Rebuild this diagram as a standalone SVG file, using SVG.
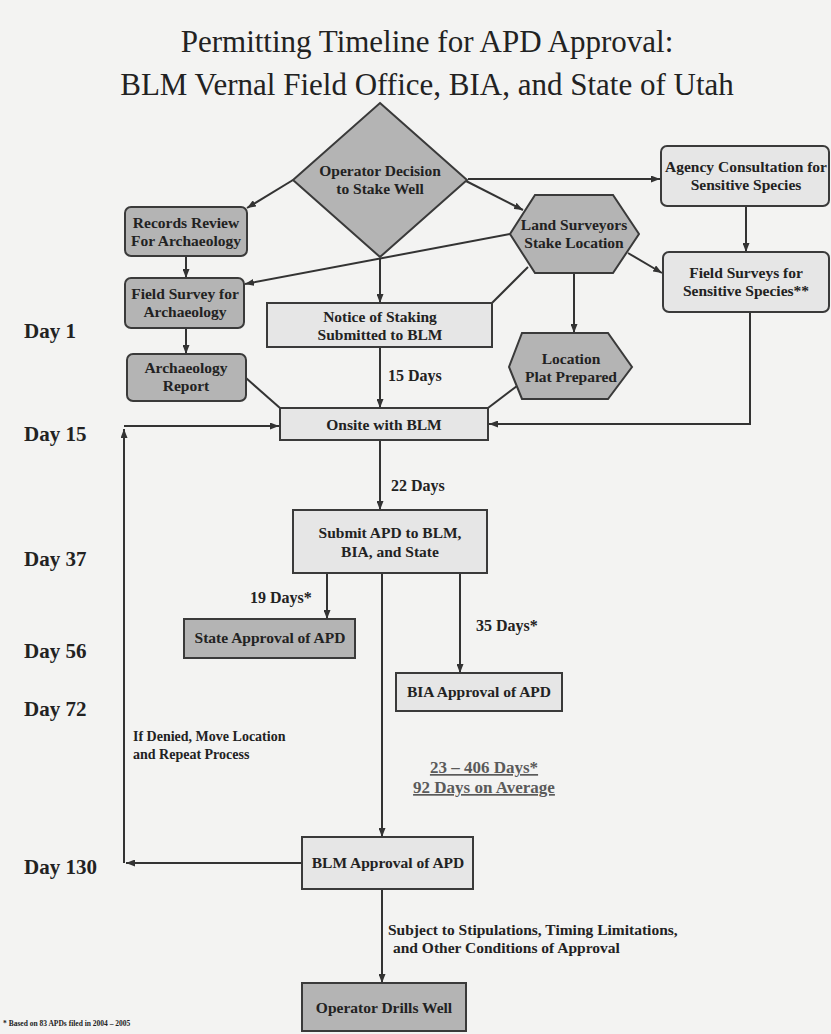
<svg xmlns="http://www.w3.org/2000/svg" width="831" height="1034" viewBox="0 0 831 1034">
<style>
.bg{fill:#f3f3f2}
.t{font-family:"Liberation Serif","Times New Roman",serif;fill:#222}
.title{font-size:31px;text-anchor:middle}
.n{font-size:15.5px;font-weight:bold;text-anchor:middle}
.lb{font-size:16px;font-weight:bold}
.day{font-size:21px;font-weight:bold}
.dk{fill:#b4b4b4;stroke:#3a3a3a;stroke-width:2}
.lt{fill:#e6e6e6;stroke:#3a3a3a;stroke-width:2}
.c{fill:none;stroke:#333;stroke-width:2}
.u{font-size:17px;font-weight:bold;fill:#5a5a5a;text-decoration:underline;text-anchor:middle}
</style>
<defs>
<marker id="a" viewBox="0 0 9 7" refX="9" refY="3.5" markerWidth="9" markerHeight="7" markerUnits="userSpaceOnUse" orient="auto"><path d="M0,0 L9,3.5 L0,7 z" fill="#333"/></marker>
</defs>
<rect class="bg" x="0" y="0" width="831" height="1034"/>
<g id="title">
<text class="t title" x="427" y="52">Permitting Timeline for APD Approval:</text>
<text class="t title" x="427" y="95">BLM Vernal Field Office, BIA, and State of Utah</text>
</g>
<g id="days">
<text class="t day" x="24" y="338">Day 1</text>
<text class="t day" x="24" y="441">Day 15</text>
<text class="t day" x="24" y="566">Day 37</text>
<text class="t day" x="24" y="658">Day 56</text>
<text class="t day" x="24" y="716">Day 72</text>
<text class="t day" x="24" y="874">Day 130</text>
</g>
<g id="connectors">
<path class="c" d="M293,180 L247,208" marker-end="url(#a)"/>
<path class="c" d="M468,179 L660,179" marker-end="url(#a)"/>
<path class="c" d="M466,181 L523,210" marker-end="url(#a)"/>
<path class="c" d="M380,258 L380,303" marker-end="url(#a)"/>
<path class="c" d="M510,234 L245,284" marker-end="url(#a)"/>
<path class="c" d="M528,267 L492,303"/>
<path class="c" d="M574,273 L574,333" marker-end="url(#a)"/>
<path class="c" d="M628,253 L662,273" marker-end="url(#a)"/>
<path class="c" d="M746,206 L746,252" marker-end="url(#a)"/>
<path class="c" d="M750,312 L750,424 L489,424" marker-end="url(#a)"/>
<path class="c" d="M517,386 L488,408"/>
<path class="c" d="M246,378 L280,408"/>
<path class="c" d="M186,256 L186,278" marker-end="url(#a)"/>
<path class="c" d="M186,328 L186,354" marker-end="url(#a)"/>
<path class="c" d="M380,347 L380,408" marker-end="url(#a)"/>
<path class="c" d="M380,440 L380,510" marker-end="url(#a)"/>
<path class="c" d="M327,573 L327,619" marker-end="url(#a)"/>
<path class="c" d="M460,573 L460,673" marker-end="url(#a)"/>
<path class="c" d="M382,573 L382,837" marker-end="url(#a)"/>
<path class="c" d="M302,863 L126,863" marker-end="url(#a)"/>
<path class="c" d="M124,863 L124,429" marker-end="url(#a)"/>
<path class="c" d="M124,426 L279,426" marker-end="url(#a)"/>
<path class="c" d="M382,889 L382,983" marker-end="url(#a)"/>
<text class="t lb" x="388" y="381">15 Days</text>
<text class="t lb" x="391" y="491">22 Days</text>
<text class="t lb" x="250" y="603">19 Days*</text>
<text class="t lb" x="476" y="631">35 Days*</text>
<text class="t lb" x="133" y="741" style="font-size:14px">If Denied, Move Location</text>
<text class="t lb" x="133" y="759" style="font-size:14px">and Repeat Process</text>
<text class="t u" x="484" y="773">23 – 406 Days*</text>
<text class="t u" x="484" y="793">92 Days on Average</text>
<text class="t lb" x="388" y="935" style="font-size:15.5px">Subject to Stipulations, Timing Limitations,</text>
<text class="t lb" x="393" y="953" style="font-size:15.5px">and Other Conditions of Approval</text>
</g>
<g id="operator-decision">
<polygon class="dk" points="380,103 467,180 380,257 293,180"/>
<text class="t n" x="380" y="176">Operator Decision</text>
<text class="t n" x="380" y="194">to Stake Well</text>
</g>
<g id="records-review">
<rect class="dk" x="125" y="207" width="122" height="49" rx="6"/>
<text class="t n" x="186" y="228">Records Review</text>
<text class="t n" x="186" y="246">For Archaeology</text>
</g>
<g id="field-survey-arch">
<rect class="dk" x="125" y="278" width="119" height="50" rx="6"/>
<text class="t n" x="185" y="299">Field Survey for</text>
<text class="t n" x="185" y="317">Archaeology</text>
</g>
<g id="archaeology-report">
<rect class="dk" x="127" y="354" width="119" height="47" rx="6"/>
<text class="t n" x="186" y="373">Archaeology</text>
<text class="t n" x="186" y="391">Report</text>
</g>
<g id="notice-of-staking">
<rect class="lt" x="267" y="303" width="225" height="44"/>
<text class="t n" x="380" y="322">Notice of Staking</text>
<text class="t n" x="380" y="340">Submitted to BLM</text>
</g>
<g id="land-surveyors">
<polygon class="dk" points="535,195 613,195 639,234 613,273 535,273 510,234"/>
<text class="t n" x="574" y="230">Land Surveyors</text>
<text class="t n" x="574" y="248">Stake Location</text>
</g>
<g id="location-plat">
<polygon class="dk" points="522,333 608,333 632,367 608,399 522,399 509,367"/>
<text class="t n" x="571" y="364">Location</text>
<text class="t n" x="571" y="382">Plat Prepared</text>
</g>
<g id="agency-consultation">
<rect class="lt" x="661" y="146" width="168" height="60" rx="6"/>
<text class="t n" x="746" y="172">Agency Consultation for</text>
<text class="t n" x="746" y="190">Sensitive Species</text>
</g>
<g id="field-surveys-species">
<rect class="lt" x="663" y="252" width="166" height="60" rx="6"/>
<text class="t n" x="746" y="278">Field Surveys for</text>
<text class="t n" x="746" y="296">Sensitive Species**</text>
</g>
<g id="onsite">
<rect class="lt" x="280" y="408" width="208" height="32"/>
<text class="t n" x="384" y="430">Onsite with BLM</text>
</g>
<g id="submit-apd">
<rect class="lt" x="293" y="510" width="194" height="63"/>
<text class="t n" x="390" y="538">Submit APD to BLM,</text>
<text class="t n" x="390" y="557">BIA, and State</text>
</g>
<g id="state-approval">
<rect class="dk" x="184" y="619" width="171" height="39"/>
<text class="t n" x="270" y="643">State Approval of APD</text>
</g>
<g id="bia-approval">
<rect class="lt" x="396" y="673" width="166" height="38"/>
<text class="t n" x="479" y="697">BIA Approval of APD</text>
</g>
<g id="blm-approval">
<rect class="lt" x="302" y="837" width="171" height="52"/>
<text class="t n" x="388" y="868">BLM Approval of APD</text>
</g>
<g id="operator-drills">
<rect class="dk" x="302" y="983" width="164" height="48"/>
<text class="t n" x="384" y="1013">Operator Drills Well</text>
</g>
<g id="footnote">
<text class="t" x="3" y="1026" style="font-size:7.5px;font-weight:bold">* Based on 83 APDs filed in 2004 – 2005</text>
</g>
</svg>
